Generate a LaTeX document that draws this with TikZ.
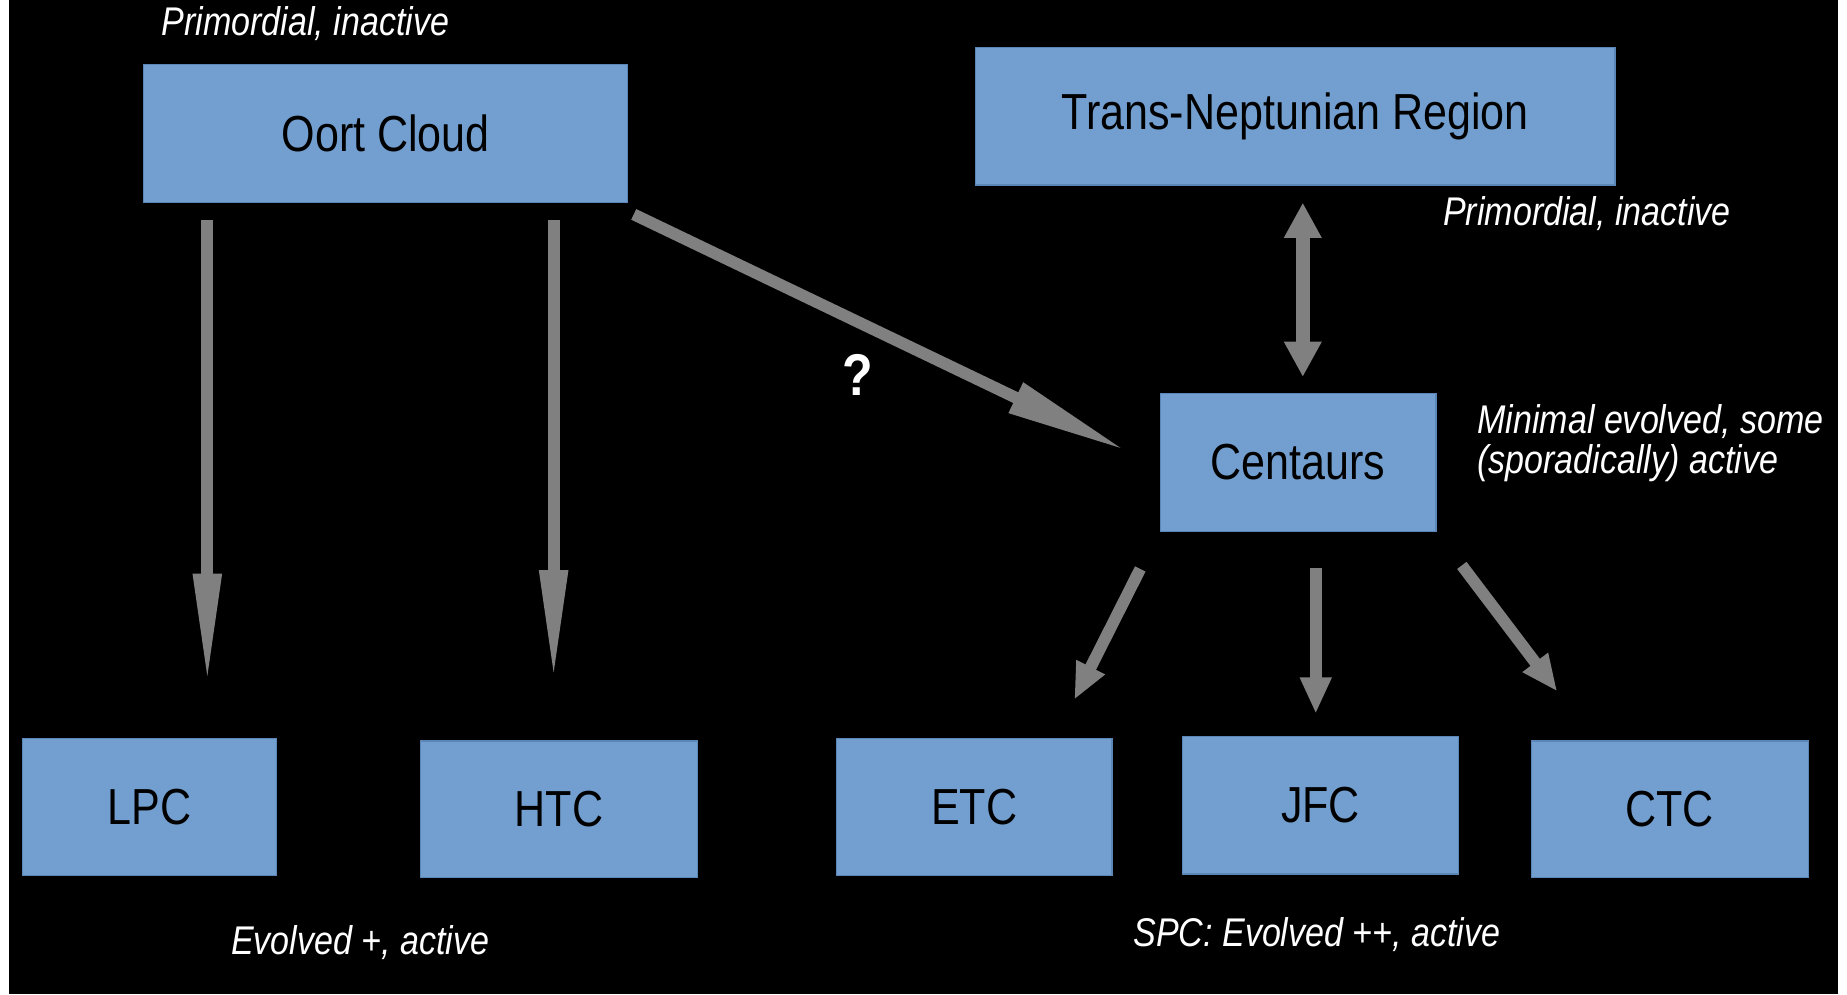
\documentclass[tikz,border=0pt]{standalone}
\usepackage{fontspec}
\setmainfont{Liberation Sans}[FakeStretch=0.85]
\usetikzlibrary{arrows.meta}
\definecolor{boxblue}{HTML}{729FCF}
\definecolor{boxedge}{HTML}{5A86B8}
\definecolor{flowgray}{HTML}{808080}
\begin{document}
\begin{tikzpicture}[x=1pt,y=-1pt]
		\tikzstyle{body}=[draw=boxedge,fill=boxblue,line width=1pt,inner sep=0pt,text=black,font=\fontsize{43}{50}\selectfont]
		\tikzstyle{note}=[inner sep=0pt,text=white,align=left,font=\fontsize{34}{34}\selectfont\itshape]
		\tikzstyle{flow}=[draw=flowgray,line width=10pt,-{Triangle[length=96pt,width=22pt]}]
		\tikzstyle{short}=[draw=flowgray,line width=10pt,-{Triangle[length=31pt,width=25pt]}]
		% page
		\fill[white] (0,0) rectangle (1568,844);
		\fill[black] (8,0) rectangle (1560,844);
		\useasboundingbox (0,0) rectangle (1568,844);
		% boxes
		\node[body,minimum width=411pt,minimum height=117pt] (b_oort) at (327.5,113.5) {Oort Cloud};
		\node[body,minimum width=543pt,minimum height=117pt] (b_tnr) at (1099.5,98.5) {Trans-Neptunian Region};
		\node[body,minimum width=234pt,minimum height=117pt] (b_cen) at (1102,392.5) {Centaurs};
		\node[body,minimum width=216pt,minimum height=116pt] (b_lpc) at (127,685) {LPC};
		\node[body,minimum width=235pt,minimum height=116pt] (b_htc) at (474.5,687) {HTC};
		\node[body,minimum width=234pt,minimum height=116pt] (b_etc) at (827,685) {ETC};
		\node[body,minimum width=234pt,minimum height=117pt] (b_jfc) at (1121,683.5) {JFC};
		\node[body,minimum width=235pt,minimum height=116pt] (b_ctc) at (1417.5,687) {CTC};
		% notes
		\node[note,anchor=west] (t_oort) at (137,20) {Primordial, inactive};
		\node[note,anchor=west] (t_tnr) at (1225,181) {Primordial, inactive};
		\node[note,anchor=west] (t_cen) at (1254,376) {Minimal evolved, some\\(sporadically) active};
		\node[note,anchor=west] (t_low) at (196,800) {Evolved +, active};
		\node[note,anchor=west] (t_spc) at (962,793) {SPC: Evolved ++, active};
		\node[inner sep=0pt,text=white,font=\fontsize{50}{50}\selectfont\bfseries] (t_q) at (728,318) {?};
		% arrow ends
		\coordinate (a_1) at (176,187);  \coordinate (z_1) at (176,583);
		\coordinate (a_2) at (470,187);  \coordinate (z_2) at (470,580);
		\coordinate (a_3) at (538,182);  \coordinate (z_3) at (957,383);
		\coordinate (a_4) at (1106,172); \coordinate (z_4) at (1106,320);
		\coordinate (a_5) at (968,483);  \coordinate (z_5) at (912,594);
		\coordinate (a_6) at (1117,482); \coordinate (z_6) at (1117,606);
		\coordinate (a_7) at (1241,480); \coordinate (z_7) at (1322,587);
		\draw[flow] (a_1) -- (z_1);
		\draw[flow] (a_2) -- (z_2);
		\draw[flow,-{Triangle[length=105pt,width=26pt]}] (a_3) -- (z_3);
		\draw[short,line width=12pt,{Triangle[length=30pt,width=30pt]}-{Triangle[length=30pt,width=30pt]}] (a_4) -- (z_4);
		\draw[short] (a_5) -- (z_5);
		\draw[short] (a_6) -- (z_6);
		\draw[short] (a_7) -- (z_7);
	\end{tikzpicture}
\end{document}
